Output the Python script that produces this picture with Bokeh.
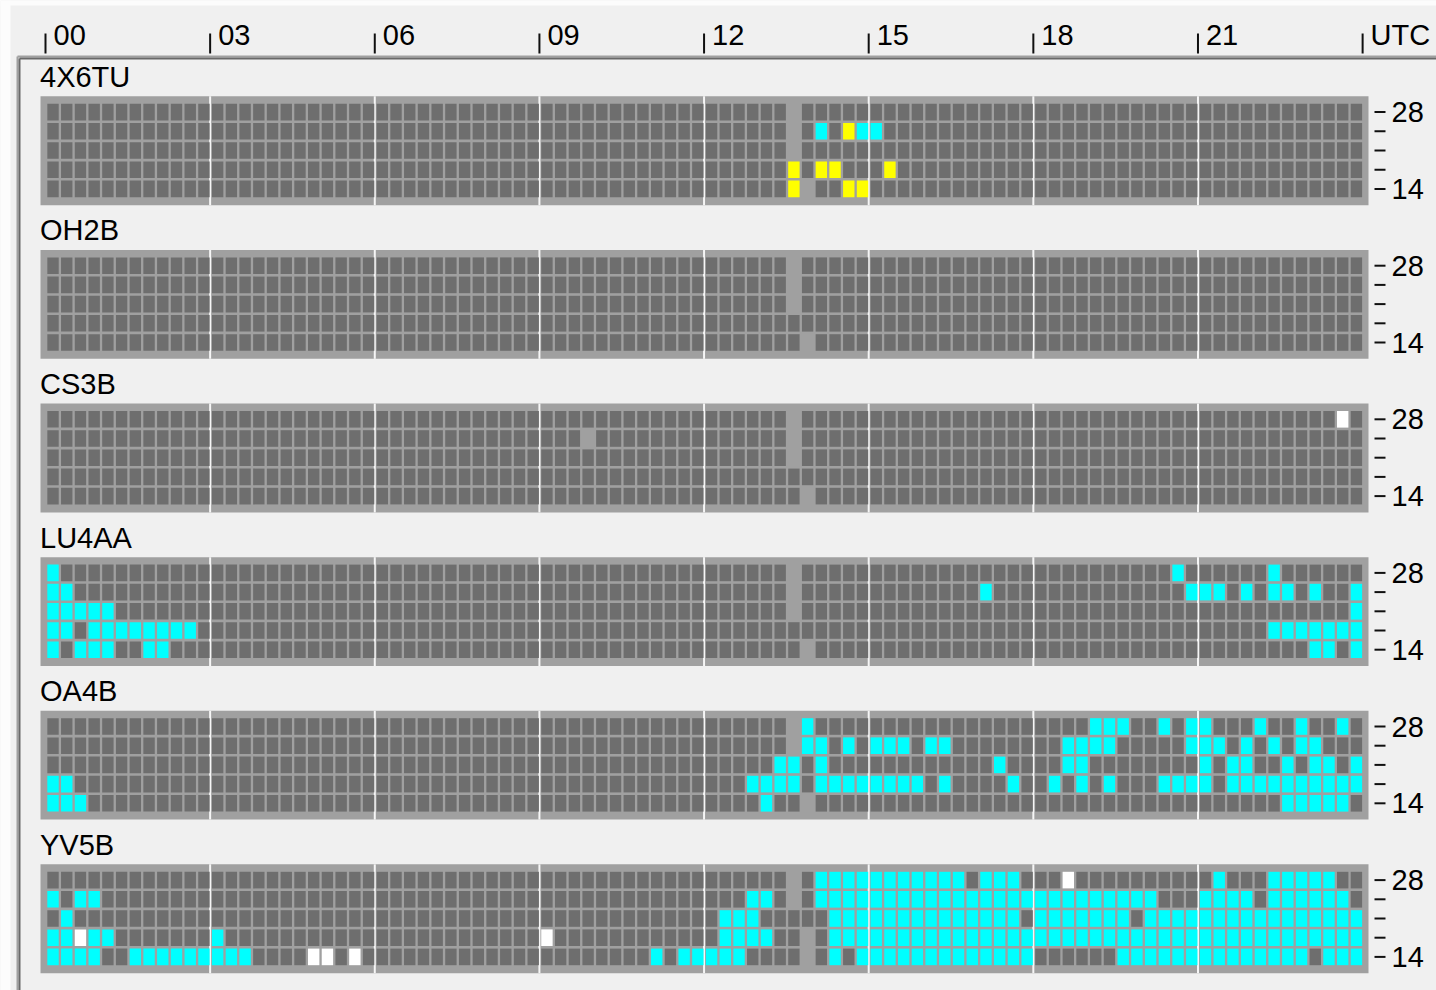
from bokeh.plotting import figure
from bokeh.models import ColumnDataSource, Range1d
from bokeh.core.properties import value
from bokeh.embed import file_html
from bokeh.resources import INLINE

# ---------------- data ----------------
stations = ["4X6TU", "OH2B", "CS3B", "LU4AA", "OA4B", "YV5B"]
band_labels = ["28", "", "", "", "14"]          # rows: 28, 24, 21, 18, 14 MHz
hour_ticks = [0, 3, 6, 9, 12, 15, 18, 21, 24]
hour_labels = ["00", "03", "06", "09", "12", "15", "18", "21", "UTC"]
slots_per_hour = 4

# '.' no spot, 'c' cyan, 'y' yellow, 'w' white, '-' no data ; 8 blocks of 3 h (12 slots)
grid_4X6TU = [
    "............ ............ ............ ............ ......-..... ............ ............ ............",
    "............ ............ ............ ............ ......-.c.yc c........... ............ ............",
    "............ ............ ............ ............ ......-..... ............ ............ ............",
    "............ ............ ............ ............ ......y.yy.. .y.......... ............ ............",
    "............ ............ ............ ............ ......y-..yy ............ ............ ............",
]
grid_OH2B = [
    "............ ............ ............ ............ ......-..... ............ ............ ............",
    "............ ............ ............ ............ ......-..... ............ ............ ............",
    "............ ............ ............ ............ ......-..... ............ ............ ............",
    "............ ............ ............ ............ ............ ............ ............ ............",
    "............ ............ ............ ............ .......-.... ............ ............ ............",
]
grid_CS3B = [
    "............ ............ ............ ............ ......-..... ............ ............ ..........w.",
    "............ ............ ............ ...-........ ......-..... ............ ............ ............",
    "............ ............ ............ ............ ......-..... ............ ............ ............",
    "............ ............ ............ ............ ............ ............ ............ ............",
    "............ ............ ............ ............ .......-.... ............ ............ ............",
]
grid_LU4AA = [
    "c........... ............ ............ ............ ......-..... ............ ..........c. .....c......",
    "cc.......... ............ ............ ............ ......-..... ........c... ...........c cc.c.cc.c..c",
    "ccccc....... ............ ............ ............ ......-..... ............ ............ ...........c",
    "cc.cccccccc. ............ ............ ............ ............ ............ ............ .....ccccccc",
    "c.ccc..cc... ............ ............ ............ .......-.... ............ ............ ........cc.c",
]
grid_OA4B = [
    "............ ............ ............ ............ ......-c.... ............ ....ccc..c.c c...c..c..c.",
    "............ ............ ............ ............ ......-cc.c. ccc.cc...... ..cccc.....c cc.c.c.cc...",
    "............ ............ ............ ............ .....cc.c... .........c.. ..cc........ c.cc..c.cc.c",
    "cc.......... ............ ............ ............ ...cccc.cccc cccc.c....c. .c.c.c...ccc c.cccccccccc",
    "ccc......... ............ ............ ............ ....c..-.... ............ ............ ......ccccc.",
]
grid_YV5B = [
    "............ ............ ............ ............ ......-.cccc ccccccc.ccc. ..w......... .c...ccccc..",
    "c.cc........ ............ ............ ............ ...cc.-.cccc cccccccccccc ccccccccc... cccc.cccccc.",
    ".c.......... ............ ............ ............ .ccc.....ccc ccccccccccc. ccccccc.cccc cccccccccccc",
    "ccwcc....... c........... ............ w........... .cccc..-.ccc cccccccccccc cccccccccccc cccccccccccc",
    "cccc..cccccc ccc....ww.w. ............ ........c.cc ccc....-.c.c cccccccccccc ......cccccc cccccccc.ccc",
]
grids = [grid_4X6TU, grid_OH2B, grid_CS3B, grid_LU4AA, grid_OA4B, grid_YV5B]

state_colors = {".": "#6E6E6E", "c": "#00FFFF", "y": "#FFFF00", "w": "#FFFFFF"}

# ---------------- layout ----------------
W, H = 1436, 990
PX_PER_HOUR = 54.88
PX_PER_ROW = 19.2
X0, Y0 = 45.0, 102.0          # pixel of hour 0 / first row top
ROWS_PER_STATION = 8
N_BANDS = 5
TXT_DY = 11.0                 # renderer places alphabetic baseline lower; compensate

def hx(px):   # pixel -> hour units
    return (px - X0) / PX_PER_HOUR

def ry(py):   # pixel -> row units (down)
    return (py - Y0) / PX_PER_ROW

FONT = value("Liberation Sans")
FS = value("29px")

p = figure(width=W, height=H, output_backend="svg", toolbar_location=None,
           x_range=Range1d(hx(0), hx(W)), y_range=Range1d(ry(H), ry(0)),
           x_axis_location=None, y_axis_location=None, min_border=0,
           background_fill_color="#F0F0F0", border_fill_color="#F0F0F0",
           outline_line_color=None)
p.xgrid.visible = False
p.ygrid.visible = False

n_slots = 24 * slots_per_hour

# window edge strips (white)
p.quad(left=[hx(0), hx(0)], right=[hx(W), hx(10)], top=[ry(0), ry(0)],
       bottom=[ry(5), ry(H)], fill_color="#FCFCFC", line_color=None)

# panels
pan_top = [ROWS_PER_STATION * s - 0.32 for s in range(len(stations))]
pan_bot = [ROWS_PER_STATION * s + N_BANDS + 0.35 for s in range(len(stations))]
p.quad(left=hx(40), right=hx(1368), top=pan_top, bottom=pan_bot,
       fill_color="#A0A0A0", line_color=None)

# 3-hour white dividers
dx0, dy0, dx1, dy1 = [], [], [], []
for s in range(len(stations)):
    for h in hour_ticks[1:-1]:
        dx0.append(h); dx1.append(h)
        dy0.append(pan_top[s]); dy1.append(pan_bot[s])
p.segment(x0=dx0, y0=dy0, x1=dx1, y1=dy1, line_color="#F6F6F6", line_width=2)

# cells
cx, cy, cc = [], [], []
for s, grid in enumerate(grids):
    for r, row in enumerate(grid):
        cells = row.replace(" ", "")
        if len(cells) != n_slots:
            raise ValueError(f"{stations[s]} row {r} has {len(cells)} slots")
        for i, ch in enumerate(cells):
            if ch == "-":
                continue
            cx.append((i + 0.5) / slots_per_hour + 0.012)
            cy.append(ROWS_PER_STATION * s + r + 0.5)
            cc.append(state_colors[ch])
src = ColumnDataSource(dict(x=cx, y=cy, color=cc))
p.rect(x="x", y="y", width=11.4 / PX_PER_HOUR, height=16.6 / PX_PER_ROW,
       fill_color="color", line_color=None, source=src)

# station names
p.text(x=[hx(39.5)] * len(stations),
       y=[ROWS_PER_STATION * s + ry(87.3 - TXT_DY) for s in range(len(stations))],
       text=stations, text_font=FONT, text_font_size=FS, text_color="#000000",
       text_baseline="alphabetic", text_align="left")

# top time scale
p.segment(x0=hour_ticks, y0=[ry(33)] * len(hour_ticks),
          x1=hour_ticks, y1=[ry(53)] * len(hour_ticks),
          line_color="#101010", line_width=2)
p.text(x=[h + 8 / PX_PER_HOUR for h in hour_ticks], y=[ry(45.5 - TXT_DY)] * len(hour_ticks),
       text=hour_labels, text_font=FONT, text_font_size=FS, text_color="#000000",
       text_baseline="alphabetic", text_align="left")

# right band scale
tx0, tx1, ty = [], [], []
lx, ly, lt = [], [], []
for s in range(len(stations)):
    for r in range(N_BANDS):
        yc = ROWS_PER_STATION * s + r + 0.5
        tx0.append(hx(1374)); tx1.append(hx(1385)); ty.append(yc)
        if band_labels[r]:
            lx.append(hx(1391)); ly.append(yc + (11.1 - TXT_DY) / PX_PER_ROW); lt.append(band_labels[r])
p.segment(x0=tx0, y0=ty, x1=tx1, y1=ty, line_color="#101010", line_width=2)
p.text(x=lx, y=ly, text=lt, text_font=FONT, text_font_size=FS, text_color="#000000",
       text_baseline="alphabetic", text_align="left")

# sunken frame border
p.segment(x0=[hx(17), hx(17)], y0=[ry(56), ry(56)],
          x1=[hx(W), hx(17)], y1=[ry(56), ry(H)],
          line_color="#A0A0A0", line_width=2)
p.segment(x0=[hx(19), hx(19)], y0=[ry(58), ry(58)],
          x1=[hx(W), hx(19)], y1=[ry(58), ry(H)],
          line_color="#696969", line_width=2)

open("out.html", "w").write(file_html(p, INLINE))
